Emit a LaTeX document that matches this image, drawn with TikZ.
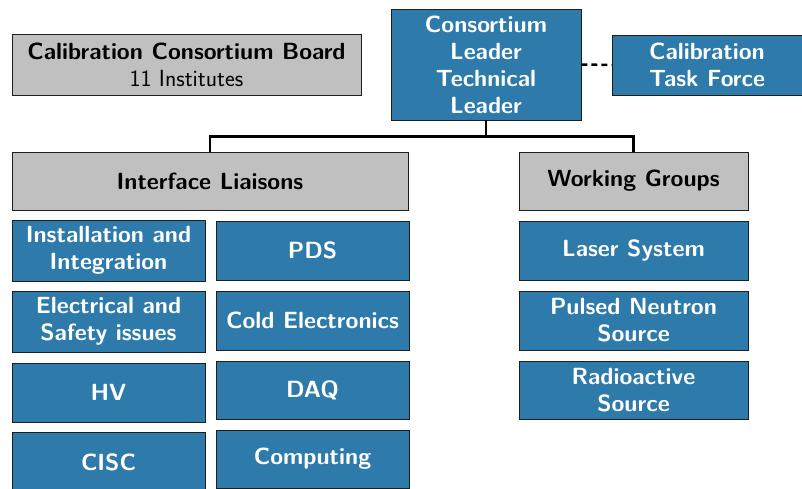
\documentclass[tikz,border=0pt]{standalone}
\usetikzlibrary{positioning}
\definecolor{boxblue}{RGB}{46,123,171}
\definecolor{boxgray}{RGB}{192,192,192}
\definecolor{edge}{RGB}{30,30,30}
\begin{document}
\begin{tikzpicture}[x=1pt,y=-1pt,
  base/.style={draw=edge,line width=0.9pt,inner sep=0pt,align=center,
    font=\fontsize{23.4}{27}\selectfont\sffamily\bfseries},
  bluebox/.style={base,fill=boxblue,text=white},
  graybox/.style={base,fill=boxgray,text=black},
  conn/.style={line width=2.5pt,black}]
\useasboundingbox (0,0) rectangle (802,488);
\node[graybox,minimum width=349pt,minimum height=61pt] (board) at (186.5,64.5)
  {Calibration Consortium Board\\ \mdseries 11 Institutes};
\node[bluebox,minimum width=190pt,minimum height=111pt] (lead) at (486,64.5)
  {Consortium\\Leader\\Technical\\Leader};
\node[bluebox,minimum width=190pt,minimum height=60pt] (tf) at (707,65)
  {Calibration\\Task Force};
\node[graybox,minimum width=396pt,minimum height=58pt] (il) at (210,181) {Interface Liaisons};
\node[graybox,minimum width=229pt,minimum height=58pt] (wg) at (633.5,181) {Working Groups};
% left column
\node[bluebox,minimum width=193pt,minimum height=61pt] (ii) at (108.5,250.5) {Installation and\\Integration};
\node[bluebox,minimum width=193pt,minimum height=61pt] (es) at (108.5,321.5) {Electrical and\\Safety issues};
\node[bluebox,minimum width=193pt,minimum height=59pt] (hv) at (108.5,392.5) {HV};
\node[bluebox,minimum width=193pt,minimum height=60pt] (cisc) at (108.5,462) {CISC};
% right column
\node[bluebox,minimum width=193pt,minimum height=59pt] (pds) at (312.5,250.5) {PDS};
\node[bluebox,minimum width=193pt,minimum height=59pt] (ce) at (312.5,320.5) {Cold Electronics};
\node[bluebox,minimum width=193pt,minimum height=58pt] (daq) at (312.5,390) {DAQ};
\node[bluebox,minimum width=193pt,minimum height=58pt] (comp) at (312.5,459) {Computing};
% working groups
\node[bluebox,minimum width=229pt,minimum height=59pt] (laser) at (633.5,250.5) {Laser System};
\node[bluebox,minimum width=229pt,minimum height=59pt] (pns) at (633.5,320.5) {Pulsed Neutron\\Source};
\node[bluebox,minimum width=229pt,minimum height=58pt] (rad) at (633.5,390) {Radioactive\\Source};
% connectors
\draw[conn] (lead.south) -- ++(0,16) -| (il.north);
\draw[conn] (lead.south) -- ++(0,16) -| (wg.north);
\draw[conn,dash pattern=on 6pt off 4pt] (lead.east) -- (tf.west);
\end{tikzpicture}
\end{document}
